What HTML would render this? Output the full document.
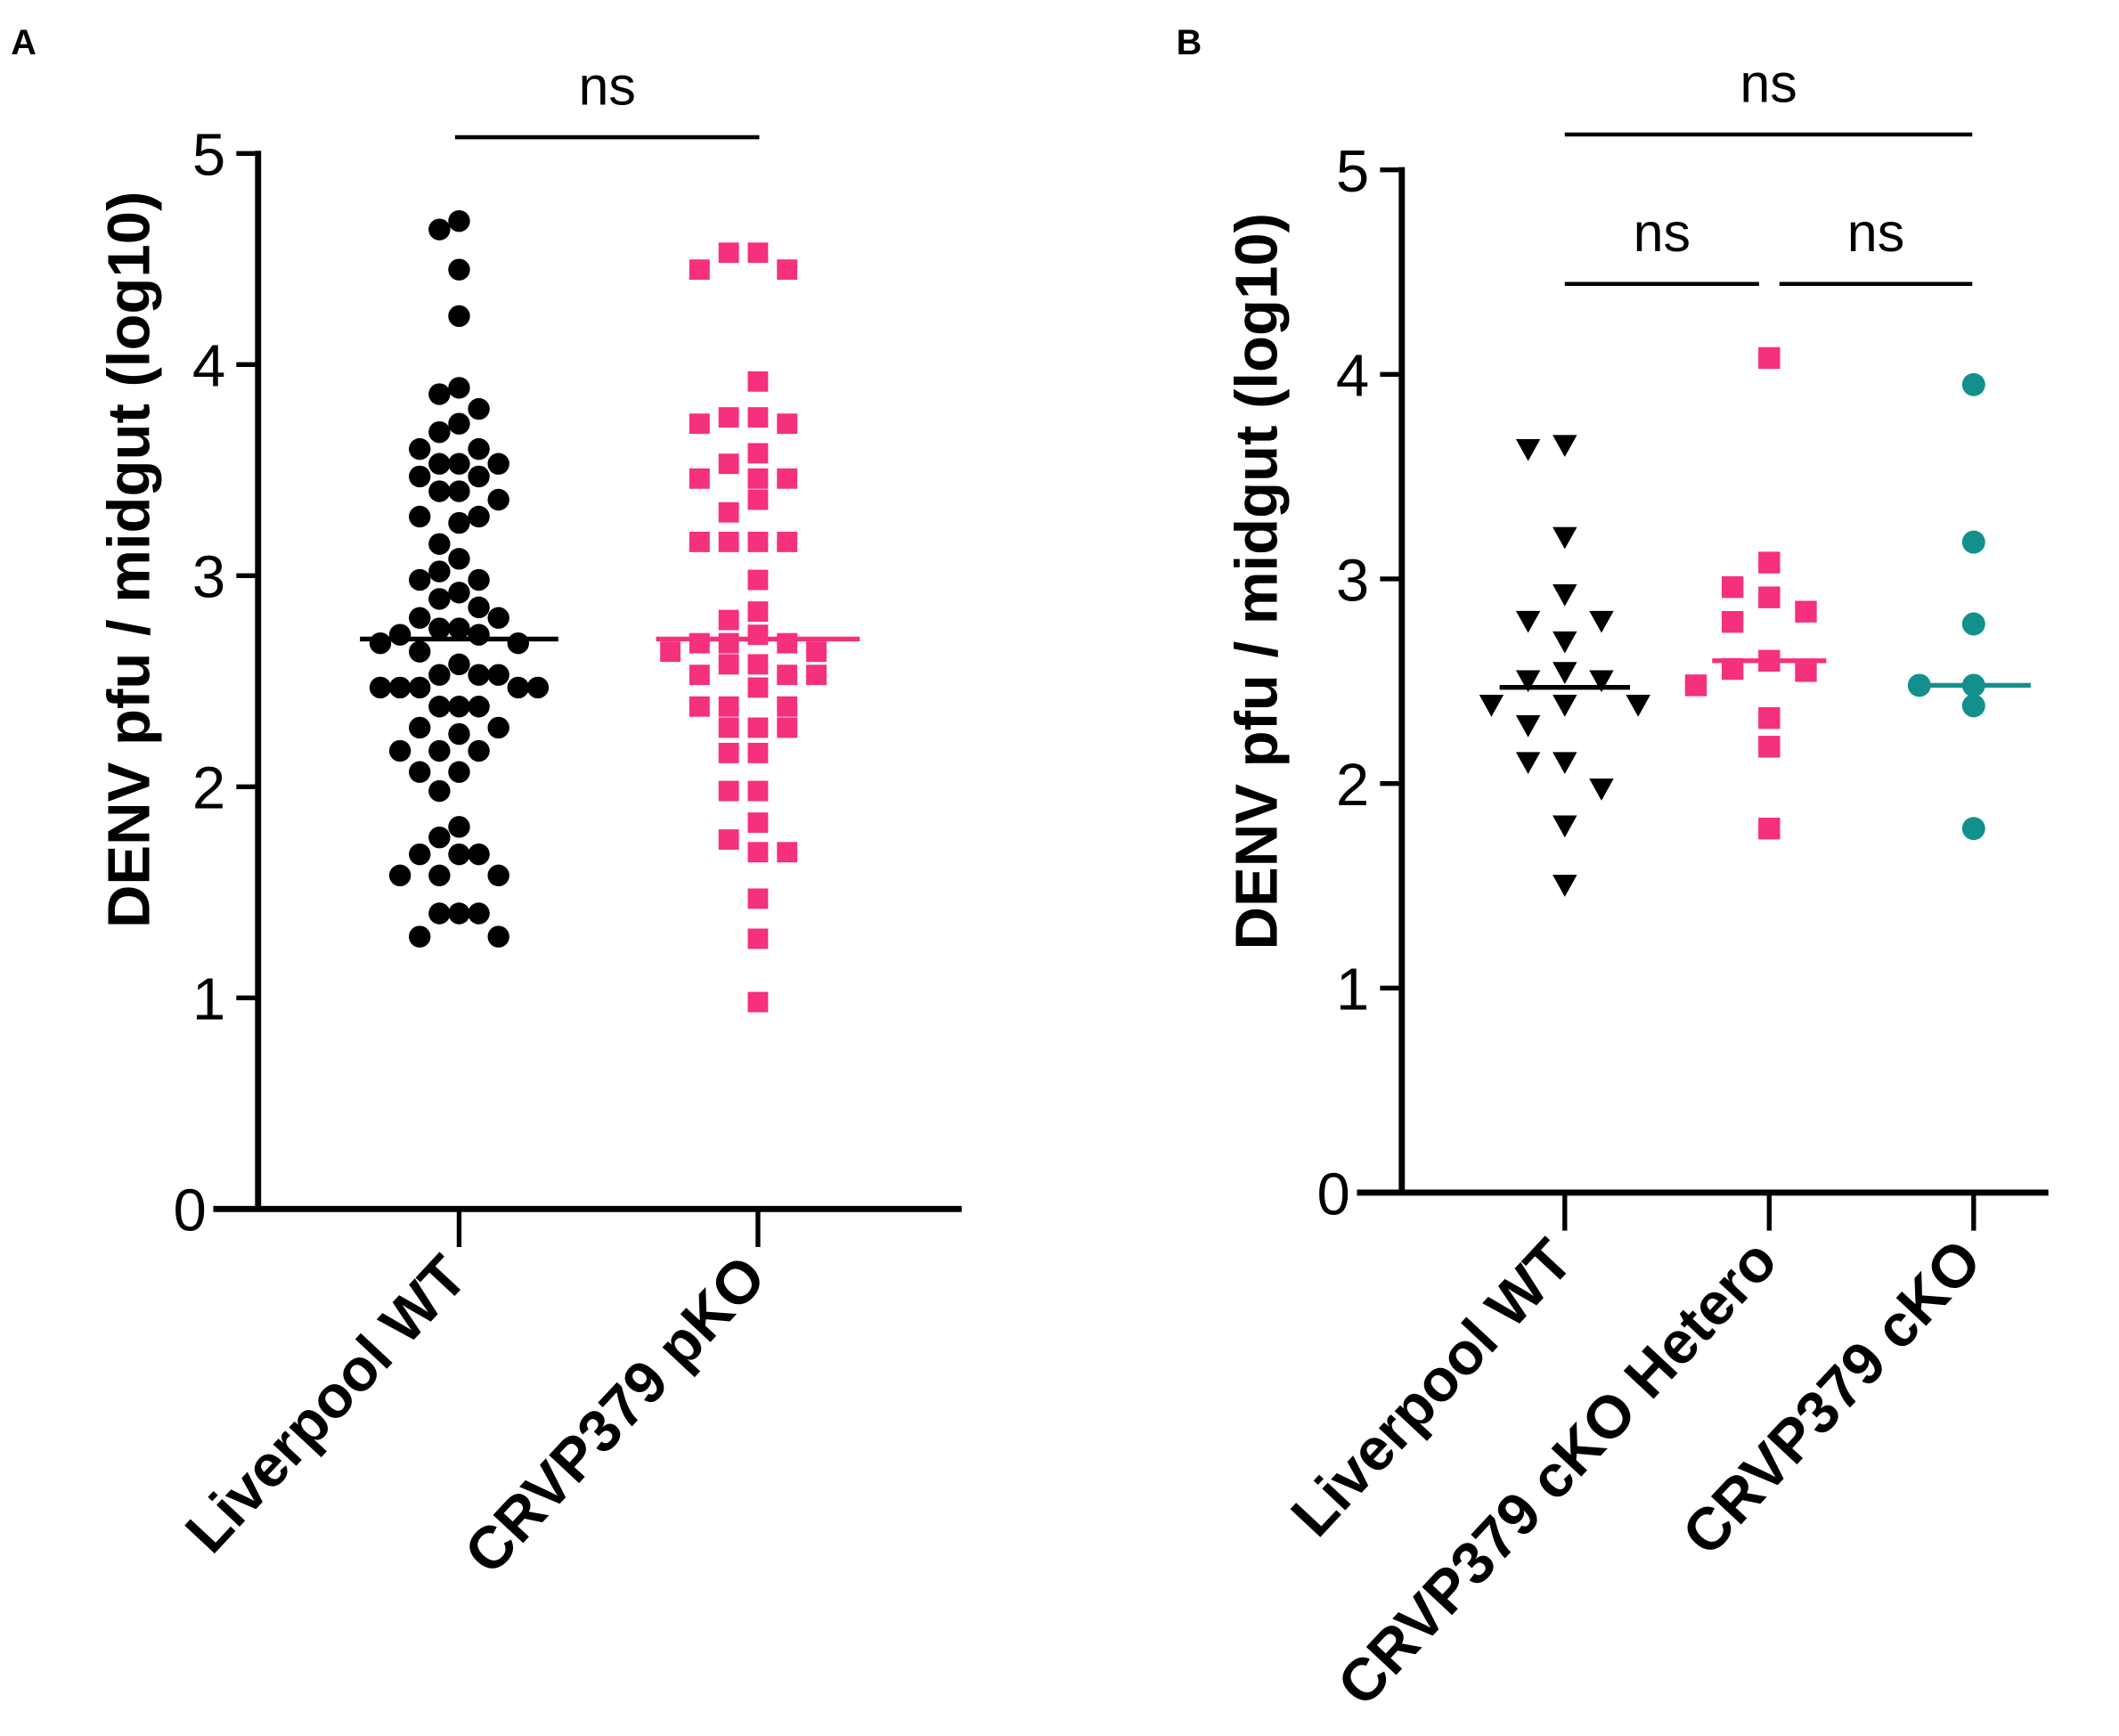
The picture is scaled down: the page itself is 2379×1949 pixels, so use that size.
<!DOCTYPE html>
<html><head><meta charset="utf-8"><style>
html,body{margin:0;padding:0;background:#fff}
svg{display:block}
text{font-family:"Liberation Sans",Arial,sans-serif;fill:#000}
</style></head><body>
<svg id="fig" width="2379" height="1949" viewBox="0 0 1560 1278" xmlns="http://www.w3.org/2000/svg">
<g id="panelA"></g>
<g id="panelB"></g>
</svg>
<script>
// ---- Panel A data ----
const catsA = ["Liverpool WT", "CRVP379 pKO"];
const wtA = [4.68,4.64,4.45,4.23,3.89,3.86,3.79,3.72,3.68,3.6,3.6,3.53,3.53,3.53,3.47,3.47,3.4,3.4,3.36,3.28,3.28,3.25,3.15,3.08,3.02,2.98,2.98,2.92,2.89,2.85,2.8,2.8,2.75,2.75,2.72,2.72,2.68,2.68,2.64,2.58,2.53,2.53,2.53,2.47,2.47,2.47,2.47,2.47,2.38,2.38,2.38,2.28,2.28,2.25,2.17,2.17,2.17,2.07,2.07,1.98,1.81,1.76,1.68,1.68,1.68,1.58,1.58,1.58,1.4,1.4,1.4,1.29,1.29];
const pkoA = [4.53,4.53,4.45,4.45,3.92,3.75,3.75,3.72,3.72,3.58,3.53,3.46,3.46,3.46,3.36,3.3,3.16,3.16,3.16,3.16,2.98,2.83,2.79,2.72,2.68,2.68,2.68,2.64,2.64,2.58,2.58,2.53,2.53,2.53,2.47,2.38,2.38,2.38,2.28,2.28,2.28,2.16,2.16,1.98,1.98,1.83,1.75,1.69,1.69,1.47,1.28,0.98];
const mediansA = [2.7, 2.7];
const ticksA = [0,1,2,3,4,5];
// ---- Panel B data ----
const catsB = ["Liverpool WT", "CRVP379 cKO Hetero", "CRVP379 cKO"];
const wtB = [3.65,3.63,3.2,2.92,2.79,2.79,2.69,2.54,2.5,2.5,2.38,2.38,2.38,2.28,2.1,2.1,1.97,1.79,1.5];
const hetB = [4.08,3.08,2.96,2.91,2.84,2.79,2.6,2.56,2.55,2.48,2.32,2.18,1.78];
const ckoB = [3.95,3.18,2.78,2.48,2.48,2.38,1.78];
const mediansB = [2.47, 2.6, 2.48];
const ticksB = [0,1,2,3,4,5];

const NS = "http://www.w3.org/2000/svg";
function mk(parent, tag, attrs){const e=document.createElementNS(NS,tag);for(const k in attrs)e.setAttribute(k,attrs[k]);parent.appendChild(e);return e;}

// axis functions
const yA = v => 890 - v*155.4;
const xA = i => 338 + i*220;
const yB = v => 878 - v*150.6;
const xB = i => 1152 + i*150.5;

function swarm(vals, yf, s, ytol){
  const placed=[]; const out=[];
  vals.forEach(v=>{
    const py=yf(v); let k=0, off=0;
    while(true){
      off = k===0?0:(k%2===1? -Math.ceil(k/2)*s : Math.ceil(k/2)*s);
      const hit = placed.some(p=>Math.abs(p.x-off)<s*0.98 && Math.abs(p.y-py)<ytol);
      if(!hit) break; k++;
    }
    placed.push({x:off,y:py}); out.push({off:off,y:py});
  });
  return out;
}

function axes(g, x0, x1, yTop, yBot, yf, ticks, xf, n, name){
  const yl=mk(g,'line',{x1:x0,y1:yTop-2,x2:x0,y2:yBot+2,stroke:'#000','stroke-width':4.5});
   
  const xl=mk(g,'line',{x1:x0-33,y1:yBot,x2:x1,y2:yBot,stroke:'#000','stroke-width':4.5});
   
  ticks.forEach(t=>{
    const tl=mk(g,'line',{x1:x0-16,y1:yf(t),x2:x0,y2:yf(t),stroke:'#000','stroke-width':3.5});
     
    const tx=mk(g,'text',{x:x0-(t===0?38:24),y:yf(t)+16,'font-size':44,'text-anchor':'end'});
    tx.textContent=t;
     
  });
  for(let i=0;i<n;i++){
    const tl=mk(g,'line',{x1:xf(i),y1:yBot,x2:xf(i),y2:yBot+28,stroke:'#000','stroke-width':3.5});
     
  }
}
function xlabels(g, cats, xf, yBot){
  cats.forEach((c,i)=>{
    const x=xf(i)+8, y=yBot+52;
    const t=mk(g,'text',{x:x,y:y,'font-size':44,'font-weight':'bold','text-anchor':'end',transform:`rotate(-47 ${x} ${y})`});
    t.textContent=c;
     
  });
}
function ytitle(g, x, y){
  const t=mk(g,'text',{x:x,y:y,'font-size':44,'font-weight':'bold','text-anchor':'middle',transform:`rotate(-90 ${x} ${y})`});
  t.textContent='DENV pfu / midgut (log10)';
   
}
function sig(g, x1, x2, y){
  const l=mk(g,'line',{x1:x1,y1:y,x2:x2,y2:y,stroke:'#000','stroke-width':3});
   
  const t=mk(g,'text',{x:(x1+x2)/2,y:y-24,'font-size':40,'text-anchor':'middle'});
  t.textContent='ns';
   
}
function median(g, cx, v, yf, half, color){
  const l=mk(g,'line',{x1:cx-half,y1:yf(v),x2:cx+half,y2:yf(v),stroke:color,'stroke-width':3.5});
   
}
function points(g, vals, cx, yf, s, ytol, shape, size, color, name){
  swarm(vals,yf,s,ytol).forEach(p=>{
    const x=cx+p.off, y=p.y; let e;
    if(shape==='circle') e=mk(g,'circle',{cx:x,cy:y,r:size/2,fill:color});
    else if(shape==='square') e=mk(g,'rect',{x:x-size/2,y:y-size/2,width:size,height:size,fill:color});
    else e=mk(g,'polygon',{points:`${x-size/2},${y-size*0.45} ${x+size/2},${y-size*0.45} ${x},${y+size*0.45}`,fill:color});
    
    
  });
}

// ---- Panel A ----
const gA=document.getElementById('panelA');
const la=mk(gA,'text',{x:8,y:40,'font-size':26,'font-weight':'bold'}); la.textContent='A';
 
points(gA, wtA, xA(0), yA, 14.5, 19, 'circle', 16, '#000', 'point-liverpool-wt');
points(gA, pkoA, xA(1), yA, 21.5, 15, 'square', 15, '#f5307c', 'point-crvp379-pko');
median(gA, xA(0), mediansA[0], yA, 73, '#000');
median(gA, xA(1), mediansA[1], yA, 75, '#f5307c');
axes(gA, 190, 708, yA(5), yA(0), yA, ticksA, xA, 2, 'panel-a');
xlabels(gA, catsA, xA, yA(0));
ytitle(gA, 110, 412);
sig(gA, 335, 559, 101);

// ---- Panel B ----
const gB=document.getElementById('panelB');
const lb=mk(gB,'text',{x:866,y:40,'font-size':26,'font-weight':'bold'}); lb.textContent='B';
 
points(gB, wtB, xB(0), yB, 27, 20, 'triangle', 18, '#000', 'point-liverpool-wt');
points(gB, hetB, xB(1), yB, 27, 20, 'square', 16, '#f5307c', 'point-cko-hetero');
points(gB, ckoB, xB(2), yB, 40, 12, 'circle', 17, '#12908e', 'point-cko');
median(gB, xB(0), mediansB[0], yB, 48, '#000');
median(gB, xB(1), mediansB[1], yB, 42, '#f5307c');
median(gB, xB(2), mediansB[2], yB, 42, '#12908e');
axes(gB, 1032, 1508, yB(5), yB(0), yB, ticksB, xB, 3, 'panel-b');
xlabels(gB, catsB, xB, yB(0));
ytitle(gB, 940, 428);
sig(gB, 1152, 1452, 99);
sig(gB, 1152, 1295, 209);
sig(gB, 1310, 1452, 209);
</script>
</body></html>
